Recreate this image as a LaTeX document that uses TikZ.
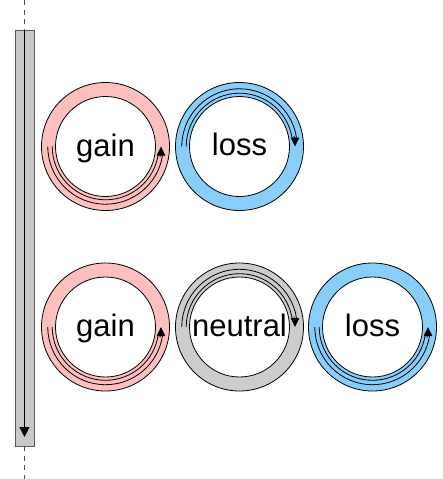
\documentclass[tikz,border=0pt]{standalone}
\usepackage{fontspec}
\setmainfont{Liberation Sans}
\usetikzlibrary{arrows.meta}
\definecolor{pinkc}{HTML}{FFBFBF}
\definecolor{bluec}{HTML}{87CEFA}
\definecolor{grayc}{HTML}{CCCCCC}
\definecolor{barc}{HTML}{C8C8C8}
\begin{document}
\begin{tikzpicture}[x=1pt,y=1pt,
  ring/.style={circle, draw=black, line width=0.8pt, fill=#1, minimum size=128pt, inner sep=0pt},
  hole/.style={circle, draw=black, line width=0.8pt, fill=white, minimum size=100pt, inner sep=0pt},
  lbl/.style={font=\fontsize{31}{36}\selectfont, anchor=base, inner sep=0pt},
  rail/.style={line width=0.8pt},
  tiphead/.style={line width=0.8pt, -{Triangle[length=9pt,width=8.5pt]}},
  guide/.style={draw=black!70, line width=0.9pt, dash pattern=on 5pt off 4.5pt},
  barbox/.style={draw=black!65, line width=0.9pt, fill=barc}
]
\useasboundingbox (0,0) rectangle (442,-479);
% time bar
\coordinate (ttop) at (24.5,0);
\coordinate (btop) at (24.5,-30);
\coordinate (bbot) at (24.5,-446);
\coordinate (tbot) at (24.5,-479);
\coordinate (tip) at (24.5,-437);
\draw[barbox] (15,-30) rectangle (34,-446);
\draw[guide] (ttop) -- (btop);
\draw[guide] (bbot) -- (tbot);
\draw[line width=0.9pt, -{Triangle[length=10pt,width=10pt]}] (btop) -- (tip);
% rings
\node[ring=pinkc] (r1) at (105.5,-146.5) {};
\node[hole] (h1) at (r1) {};
\node[ring=bluec] (r2) at (239.5,-146.5) {};
\node[hole] (h2) at (r2) {};
\node[ring=pinkc] (r3) at (105.5,-327) {};
\node[hole] (h3) at (r3) {};
\node[ring=grayc] (r4) at (239.5,-327) {};
\node[hole] (h4) at (r4) {};
\node[ring=bluec] (r5) at (372.5,-327) {};
\node[hole] (h5) at (r5) {};
% flow arcs: counter-clockwise under (gain / bottom loss)
\foreach \c in {r1,r3,r5}{
  \draw[rail] ([shift={(180:53.3)}]\c.center) arc[start angle=180, end angle=351, radius=53.3];
  \draw[rail] ([shift={(180:57.7)}]\c.center) arc[start angle=180, end angle=351, radius=57.7];
  \draw[tiphead] ([shift={(349:55.5)}]\c.center) arc[start angle=349, end angle=360, radius=55.5];
}
% clockwise over the top (top loss / neutral)
\foreach \c in {r2,r4}{
  \draw[rail] ([shift={(180:53.3)}]\c.center) arc[start angle=180, end angle=9, radius=53.3];
  \draw[rail] ([shift={(180:57.7)}]\c.center) arc[start angle=180, end angle=9, radius=57.7];
  \draw[tiphead] ([shift={(11:55.5)}]\c.center) arc[start angle=11, end angle=0, radius=55.5];
}
% labels
\node[lbl] (t1) at ([yshift=-9.5pt]r1.center) {gain};
\node[lbl] (t2) at ([yshift=-9pt]r2.center) {loss};
\node[lbl] (t3) at ([yshift=-9.5pt]r3.center) {gain};
\node[lbl] (t4) at ([yshift=-9pt]r4.center) {neutral};
\node[lbl] (t5) at ([yshift=-9pt]r5.center) {loss};
\end{tikzpicture}
\end{document}
